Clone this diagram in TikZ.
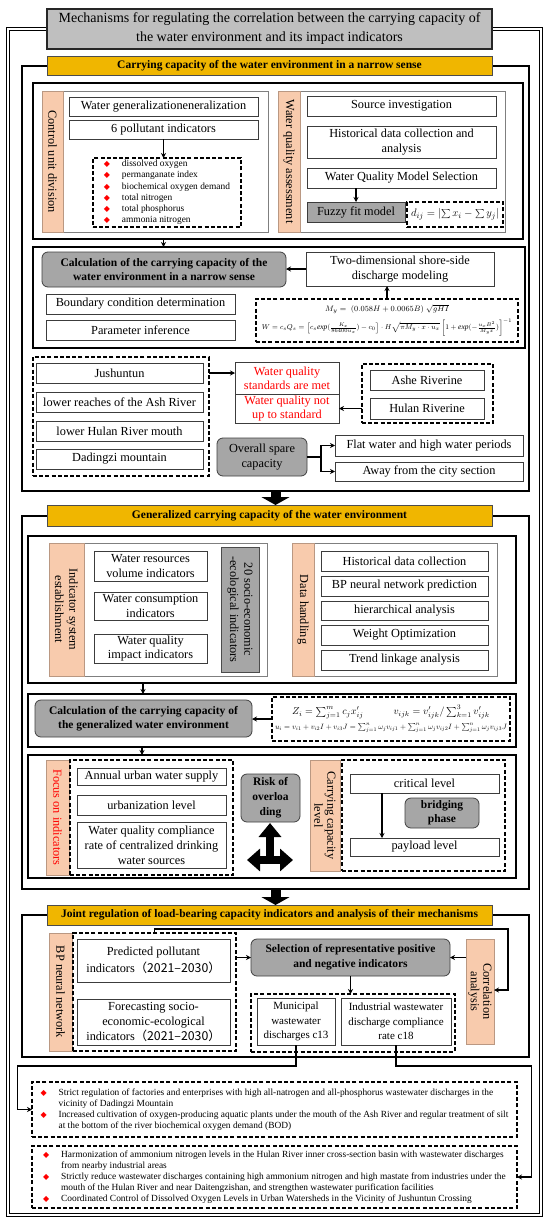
\documentclass[tikz,border=0pt]{standalone}
\usepackage{fontspec}
\usepackage{graphicx}
\setmainfont{Liberation Serif}
\newfontfamily\symf{DejaVu Sans}
\newfontfamily\cjkf{Noto Sans CJK SC}
\usetikzlibrary{arrows.meta}
\definecolor{hdrc}{RGB}{240,182,0}
\definecolor{stripc}{RGB}{248,203,173}
\definecolor{grayf}{RGB}{166,166,166}
\definecolor{titlef}{RGB}{191,191,191}
\definecolor{contb}{RGB}{127,127,127}
\definecolor{itemb}{RGB}{60,60,60}
\newcommand\fs[2]{\fontsize{#1}{#2}\selectfont}
\newcommand\dia{\makebox[18pt][l]{\textcolor{red}{\symf\fs{8}{8}◆}}}
\newcommand\ind{\hspace*{18pt}}
\newcommand\BX[7]{\node[#2,anchor=north west,minimum width={(#5-#3)*1pt},minimum height={(#6-#4)*1pt}] (#1) at (#3,#4) {#7};}
\newcommand\ST[8]{\node[#2,anchor=north west,minimum width={(#5-#3)*1pt},minimum height={(#6-#4)*1pt}] (#1) at (#3,#4) {};\node[rotate=-90,align=center,#7] (#1t) at (#1.center) {#8};}
\tikzset{
  every node/.style={inner sep=1pt,outer sep=0pt,font=\fs{12.3}{14.3}},
  itembox/.style={draw=itemb,line width=0.8pt,fill=white,align=center},
  contbox/.style={draw=contb,line width=0.9pt},
  stripbox/.style={fill=stripc,draw=stripc!75!black,line width=0.4pt},
  gfill/.style={fill=grayf,draw=black!70,line width=0.8pt},
  hdr/.style={fill=hdrc,draw=black!70,line width=0.7pt,font=\bfseries\fs{11.5}{13}},
  titlebox/.style={fill=titlef,draw=black!85,line width=1.8pt,align=center,font=\fs{14}{19}},
  secfr/.style={draw=black,line width=1.4pt},
  ibox/.style={draw=black,line width=1.6pt},
  dbox/.style={draw=black,line width=1.5pt,dash pattern=on 4pt off 2.2pt},
  gbox/.style={fill=grayf,draw=black!75,line width=0.8pt,rounded corners=6pt,align=center},
  arr/.style={-{Stealth[length=5pt,width=5pt]},line width=1.1pt},
  blk/.style={line width=10pt,-{Triangle[length=8pt,width=28pt]}},
  quadv/.style={line width=8pt,-{Triangle[length=14pt,width=22pt]}},
  quadh/.style={line width=8pt,{Triangle[length=13pt,width=22pt]}-{Triangle[length=13pt,width=22pt]}},
  outerfr/.style={draw=black,double=white,double distance=2.2pt,line width=0.7pt}
}
\begin{document}
\begin{tikzpicture}[x=1pt,y=-1pt]
\useasboundingbox (0,0) rectangle (550,1226);
\fill[white] (0,0) rectangle (550,1226);
\draw[outerfr] (8,29) rectangle (541,1215);
\BX{title}{titlebox}{47}{9}{492}{49}{Mechanisms for regulating the correlation between the carrying capacity of\\the water environment and its impact indicators}

% ---------------- Section 1
\BX{sec1}{secfr}{22}{66}{529}{491}{}
\BX{h1}{hdr}{47}{56}{492}{75}{Carrying capacity of the water environment in a narrow sense}
\BX{boxA}{ibox}{33}{83}{523}{239}{}
\BX{cud}{contbox}{42}{91}{268}{232}{}
\ST{cuds}{stripbox}{42}{91}{63}{232}{}{Control unit division}
\BX{wg}{itembox}{69}{97}{258}{116}{Water generalizationeneralization}
\BX{pi6}{itembox}{69}{120}{258}{139}{6 pollutant indicators}
\BX{plist}{dbox,align=left,font=\fs{9.4}{11.2}}{93}{158}{241}{227}{\dia dissolved oxygen\\\dia permanganate index\\\dia biochemical oxygen demand\\\dia total nitrogen\\\dia total phosphorus\\\dia ammonia nitrogen}
\BX{wqa}{contbox}{278}{91}{505}{232}{}
\ST{wqas}{stripbox}{278}{91}{300}{232}{}{Water quality assessment}
\BX{src}{itembox}{307}{96}{496}{116}{Source investigation}
\BX{hist}{itembox}{307}{126}{496}{158}{Historical data collection and\\analysis}
\BX{wqm}{itembox}{307}{168}{496}{188}{Water Quality Model Selection}
\BX{fuzzy}{itembox,fill=grayf}{307}{202}{405}{222}{Fuzzy fit model}
\BX{fform}{dbox}{407}{202}{503}{227}{\resizebox{88pt}{!}{$d_{ij}=\left|\sum x_i-\sum y_j\right|$}}

\BX{boxB}{ibox}{33}{247}{525}{348}{}
\BX{calc1}{gbox,font=\bfseries\fs{11.5}{14}}{42}{252}{286}{287}{Calculation of the carrying capacity of the\\water environment in a narrow sense}
\BX{twod}{itembox}{306}{252}{494}{286}{Two-dimensional shore-side\\discharge modeling}
\BX{bcd}{itembox}{46}{294}{235}{314}{Boundary condition determination}
\BX{pinf}{itembox}{46}{320}{235}{340}{Parameter inference}
\BX{form2}{dbox,align=center,font=\fs{8.5}{10}}{256}{299}{518}{342}{\resizebox{124pt}{!}{$M_y=\;(0.058H+0.0065B)\;\sqrt{gHI}$}\\[4pt]\resizebox{250pt}{!}{$W=c_sQ_s=\left[c_s\mathit{exp}(\frac{K_x}{86400u_x})-c_0\right]\cdot H\sqrt{\pi M_y\cdot x\cdot u_x}\left[1+\mathit{exp}(-\frac{u_xB^2}{M_yx})\right]^{-1}$}}

\BX{jgrp}{dbox}{33}{357}{209}{476}{}
\BX{jus}{itembox}{36}{363}{203}{383}{Jushuntun}
\BX{lra}{itembox}{36}{392}{203}{412}{lower reaches of the Ash River}
\BX{lhr}{itembox}{36}{421}{203}{441}{lower Hulan River mouth}
\BX{dad}{itembox}{36}{449}{203}{469}{Dadingzi mountain}
\BX{wqs}{itembox,text=red}{235}{362}{339}{394}{Water quality\\standards are met}
\BX{wqn}{itembox,text=red}{235}{394}{339}{423}{Water quality not\\up to standard}
\BX{agrp}{dbox}{362}{364}{493}{423}{}
\BX{ashe}{itembox}{370}{370}{484}{390}{Ashe Riverine}
\BX{hulan}{itembox}{370}{398}{484}{419}{Hulan Riverine}
\BX{overall}{gbox}{217}{438}{307}{476}{Overall spare\\capacity}
\BX{flat}{itembox}{335}{435}{523}{456}{Flat water and high water periods}
\BX{away}{itembox}{335}{462}{523}{481}{Away from the city section}

% ---------------- Section 2
\BX{sec2}{secfr}{22}{516}{529}{889}{}
\BX{h2}{hdr}{47}{505}{492}{526}{Generalized carrying capacity of the water environment}
\BX{boxC}{ibox}{28}{536}{516}{683}{}
\BX{indc}{contbox}{49}{543}{267}{676}{}
\ST{indcs}{stripbox}{49}{543}{84}{676}{}{Indicator system\\establishment}
\BX{wrv}{itembox}{94}{551}{207}{581}{Water resources\\volume indicators}
\BX{wci}{itembox}{94}{592}{207}{620}{Water consumption\\indicators}
\BX{wqi}{itembox}{94}{634}{207}{663}{Water quality\\impact indicators}
\ST{soc}{gfill}{221}{547}{259}{672}{}{20 socio-economic\\-ecological indicators}
\BX{dh}{contbox}{292}{543}{497}{676}{}
\ST{dhs}{stripbox}{292}{543}{314}{676}{}{Data handling}
\BX{hdc}{itembox}{321}{551}{488}{571}{Historical data collection}
\BX{bpn}{itembox}{321}{576}{488}{596}{BP neural network prediction}
\BX{hia}{itembox}{321}{601}{488}{620}{hierarchical analysis}
\BX{wop}{itembox}{321}{625}{488}{645}{Weight Optimization}
\BX{tla}{itembox}{321}{650}{488}{670}{Trend linkage analysis}

\BX{boxD}{ibox}{28}{694}{516}{747}{}
\BX{calc2}{gbox,font=\bfseries\fs{11.5}{14}}{35}{700}{252}{737}{Calculation of the carrying capacity of\\the generalized water environment}
\BX{form3}{dbox,align=center,font=\fs{10}{12}}{272}{697}{510}{741}{$Z_i=\sum_{j=1}^{m}c_jx'_{ij}$\hspace{30pt}$v_{ijk}=v'_{ijk}/\sum_{k=1}^{3}v'_{ijk}$\\[3pt]\resizebox{232pt}{!}{$u_i=v_{i1}+v_{i2}I+v_{i3}J=\sum_{j=1}^{n}\omega_jv_{ij1}+\sum_{j=1}^{n}\omega_jv_{ij2}I+\sum_{j=1}^{n}\omega_jv_{ij3}J$}}

\BX{boxE}{ibox}{28}{755}{516}{878}{}
\ST{focs}{stripbox}{46}{760}{69}{875}{text=red}{Focus on indicators}
\BX{fgrp}{dbox}{70}{760}{233}{875}{}
\BX{aws}{itembox}{77}{768}{226}{785}{Annual urban water supply}
\BX{urb}{itembox}{77}{795}{226}{815}{urbanization level}
\BX{wqc}{itembox,font=\fs{12.3}{15}}{77}{822}{226}{868}{Water quality compliance\\rate of centralized drinking\\water sources}
\BX{risk}{gbox,font=\bfseries\fs{11.5}{15}}{241}{774}{300}{822}{Risk of\\overloa\\ding}
\coordinate (qb) at (270,864);
\coordinate (qt) at (270,823);
\coordinate (ql) at (247,860);
\coordinate (qr) at (293,860);
\ST{ccls}{stripbox}{310}{760}{340}{871}{font=\fs{12.3}{13}}{Carrying capacity\\level}
\BX{cgrp}{dbox}{342}{760}{505}{871}{}
\BX{crit}{itembox}{350}{774}{499}{793}{critical level}
\BX{bridge}{gbox,font=\bfseries\fs{11.5}{14}}{405}{798}{479}{828}{bridging\\phase}
\BX{payl}{itembox}{350}{838}{499}{856}{payload level}

% ---------------- Section 3
\BX{sec3}{secfr}{22}{915}{529}{1057}{}
\BX{h3}{hdr}{47}{905}{492}{925}{Joint regulation of load-bearing capacity indicators and analysis of their mechanisms}
\ST{bps}{stripbox}{49}{933}{72}{1051}{}{BP neural network}
\BX{bpgrp}{dbox}{73}{933}{236}{1051}{}
\BX{ppi}{itembox,font=\fs{12.3}{17}}{77}{939}{230}{982}{Predicted pollutant\\indicators\cjkf{（}2021–2030\cjkf{）}}
\BX{fse}{itembox,font=\fs{12.3}{15}}{77}{999}{230}{1045}{Forecasting socio-\\economic-ecological\\indicators\cjkf{（}2021–2030\cjkf{）}}
\BX{sel}{gbox,font=\bfseries\fs{11.5}{15}}{251}{939}{450}{976}{Selection of representative positive\\and negative indicators}
\ST{corr}{stripbox}{466}{939}{494}{1044}{font=\fs{12.3}{12.5}}{Correlation\\analysis}
\BX{ogrp}{dbox}{251}{994}{455}{1052}{}
\BX{mun}{itembox,font=\fs{11}{14.5}}{257}{998}{335}{1045}{Municipal\\wastewater\\discharges c13}
\BX{indr}{itembox,font=\fs{11}{14.5}}{341}{998}{451}{1045}{Industrial wastewater\\discharge compliance\\rate c18}

\BX{bx1}{dbox,align=left,font=\fs{9.4}{11.1}}{32}{1082}{517}{1137}{\dia Strict regulation of factories and enterprises with high all-natrogen and all-phosphorus wastewater discharges in the\\\ind vicinity of Dadingzi Mountain\\\dia Increased cultivation of oxygen-producing aquatic plants under the mouth of the Ash River and regular treatment of silt\\\ind at the bottom of the river biochemical oxygen demand (BOD)}
\BX{bx2}{dbox,align=left,font=\fs{9.4}{11.1}}{32}{1146}{517}{1208}{\dia Harmonization of ammonium nitrogen levels in the Hulan River inner cross-section basin with wastewater discharges\\\ind from nearby industrial areas\\\dia Strictly reduce wastewater discharges containing high ammonium nitrogen and high mastate from industries under the\\\ind mouth of the Hulan River and near Daitengzishan, and strengthen wastewater purification facilities\\\dia Coordinated Control of Dissolved Oxygen Levels in Urban Watersheds in the Vicinity of Jushuntun Crossing}

% ---------------- connectors
\draw[arr] (pi6.south) -- (pi6.south |- plist.north);
\draw[arr] (wqm.south -| fuzzy.north) -- (fuzzy.north);
\draw[arr] (pi6.south |- boxA.south) -- (pi6.south |- boxB.north);
\draw[arr] (twod.west) -- (twod.west -| calc1.east);
\draw[arr] (form2.north) -- (form2.north |- twod.south);
\draw[arr] (jgrp.east |- jus.east) -- (wqs.west |- jus.east);
\draw[arr] (agrp.west |- wqn.east) -- (wqn.east);
\draw[arr] (overall.east) -- ++(14,0) |- (flat.west);
\draw[arr] (overall.east) -- ++(14,0) |- (away.west);
\draw[blk] (sec1.south) -- (sec1.south |- h2.north);

\draw[arr] ([xshift=-129pt]boxC.south) -- ([xshift=-129pt]boxC.south |- boxD.north);
\draw[arr] (form3.west) -- (form3.west -| calc2.east);
\draw[arr] ([xshift=-130pt]boxD.south) -- ([xshift=-130pt]boxD.south |- boxE.north);
\draw[arr] ([xshift=-42.5pt]crit.south) -- ([xshift=-42.5pt]crit.south |- payl.north);
\draw[quadv] (qb) -- (qt);
\draw[quadh] (ql) -- (qr);
\draw[blk] (sec2.south) -- (sec2.south |- h3.north);

\draw[arr] (bpgrp.east |- sel.west) -- (sel.west);
\draw[arr] (corr.west |- sel.east) -- (sel.east);
\draw[arr] (sel.south) -- (sel.south |- ogrp.north);
\draw[arr] (bpgrp.north) -- ++(0,-4) -| ([xshift=14pt]corr.east |- 0,990) -- (corr.east |- 0,990);
\draw[arr] (mun.south) -- ++(0,21) -| ([xshift=-14.5pt]bx1.west) -- (bx1.west);
\draw[arr] (indr.south) -- ++(0,21) -| ([xshift=14.5pt]bx2.east) -- (bx2.east);
\end{tikzpicture}
\end{document}
